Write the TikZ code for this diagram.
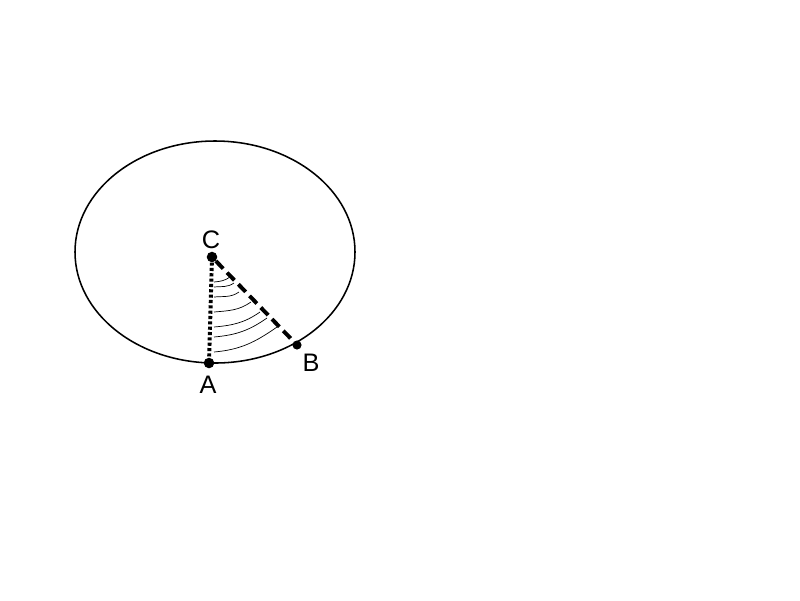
\documentclass[tikz,border=0pt]{standalone}
\usepackage{fontspec}
\setmainfont{Liberation Sans}
\begin{document}
\begin{tikzpicture}[x=0.025cm,y=-0.025cm,
	pt/.style={circle,fill,inner sep=0pt,minimum size=7.5pt},
	lbl/.style={font=\fontsize{18}{21}\selectfont,inner sep=1pt}]
	\useasboundingbox (0,0) rectangle (800,600);
	% окружность
	\draw [line width=1.1pt] (215,252) ellipse [x radius=140, y radius=111];

	% точки
	\node [pt] (C) at (212,257) {};
	\node [pt] (A) at (209,363) {};
	\node [pt,minimum size=6.5pt] (B) at (297,345) {};
	\node [lbl] at (211,240) {C};
	\node [lbl] at (208,385) {A};
	\node [lbl] at (311,363) {B};

	% радиусы
	\draw [line width=2.8pt, dash pattern=on 2.2pt off 1.6pt] (C) -- (A);
	\draw [line width=2.8pt, dash pattern=on 7.5pt off 4pt] (C) -- (B);

	% штриховка угла
	\foreach \ya/\xb/\yb in {282/230/277, 287/234/283, 297/239/292, 312/251/302, 327/260/312, 337/267/318, 352/277/327}
		\draw [line width=0.5pt] (214,\ya) to [out=5, in=-145] (\xb,\yb);
\end{tikzpicture}
\end{document}
